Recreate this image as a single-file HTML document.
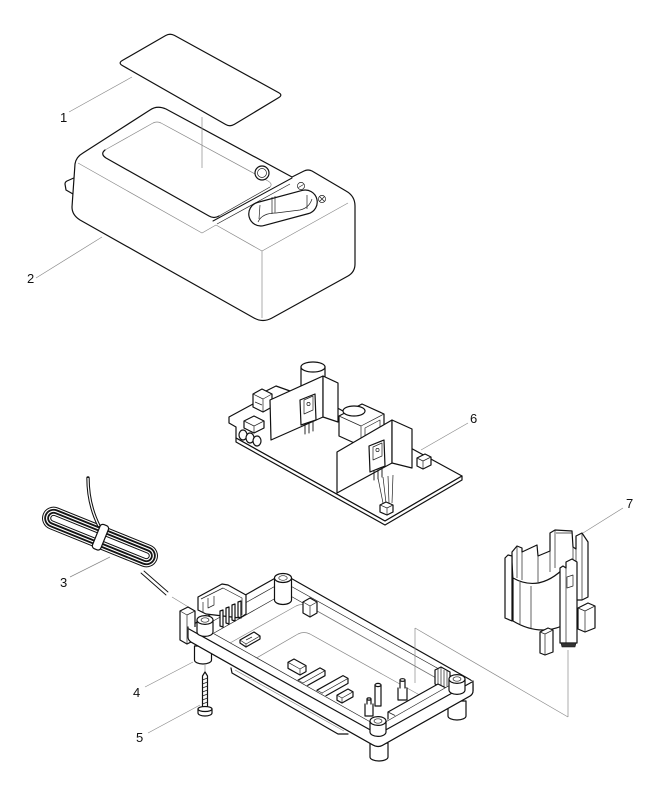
<!DOCTYPE html>
<html><head><meta charset="utf-8"><style>
html,body{margin:0;padding:0;background:#fff}
svg{display:block}
.k{fill:#fff;stroke:#111;stroke-width:1.2;stroke-linejoin:round;stroke-linecap:round}
.n{fill:none;stroke:#111;stroke-width:1.2;stroke-linejoin:round;stroke-linecap:round}
.t{fill:none;stroke:#222;stroke-width:0.7;stroke-linejoin:round}
.g{fill:none;stroke:#8a8a8a;stroke-width:0.7}
text{font-family:"Liberation Sans",sans-serif;font-size:13px;fill:#111}
</style></head><body>
<svg width="657" height="800" viewBox="0 0 657 800" xmlns="http://www.w3.org/2000/svg">
<rect width="657" height="800" fill="#fff"/>

<!-- ===== Part 1: label card ===== -->
<path class="k" d="M174.4,35.4 L278.6,92.6 Q283,95 278.7,97.6 L234.3,124.4 Q230,127 225.7,124.5 L122.3,65.5 Q118,63 122.3,60.5 L165.7,35.5 Q170,33 174.4,35.4 Z"/>
<line class="g" x1="132" y1="77" x2="69" y2="112"/>
<text x="60" y="122">1</text>

<!-- ===== Part 2: housing ===== -->
<path class="k" d="M76,177 L67,181 Q65,182 65,184 L66,190 L73,194"/>
<path class="k" d="M150,110 Q157,105 166,109 L292,177 L304,171 Q308,169 312,171 L346,191 Q355,196 355,206 L355,264 Q355,272 348,276 L272,318 Q263,323 254,318 L80,220 Q72,215 72,207 L75,164 Q76,157 83,153 Z"/>
<!-- recess -->
<path class="g" d="M105,150 L153,123 Q157,121 161,123 L268,181 Q273,184 270,187"/>
<path class="n" d="M105,150 Q100,154 106,158 L209,216 Q214,219 219,216"/>
<path class="t" d="M219,216 L270,187"/>
<!-- groove -->
<path class="n" d="M213,221 L292,178" style="stroke-width:1"/>
<path class="t" d="M217,224 L290,184"/>
<!-- body edges -->
<path class="g" d="M78,163 L202,233 L216,225 L262,251 L348,203"/>
<path class="g" d="M262,251 L262,318"/>
<!-- vertical leader from card -->
<line class="g" x1="202" y1="117" x2="202" y2="168"/>
<!-- button -->
<circle class="k" cx="262" cy="173" r="7"/>
<circle class="t" cx="262" cy="173" r="4.5"/>
<!-- socket -->
<g transform="translate(283,208) rotate(-15)">
  <rect class="k" x="-35" y="-12" width="70" height="24" rx="12"/>
</g>
<path class="t" d="M258,222 Q262,213 276,213 L300,210 Q309,208 312,199"/>
<path class="t" d="M260,205 L259,219"/>
<path class="t" d="M272,197 L272,214 M275,196 L275,213"/>
<path class="t" d="M307,195 L307,209"/>
<!-- polarity symbols -->
<circle class="t" cx="301" cy="186" r="3.6"/>
<line class="t" x1="298.5" y1="187.5" x2="303.5" y2="184.5"/>
<circle class="t" cx="322" cy="199" r="3.6"/>
<line class="t" x1="319.5" y1="196.5" x2="324.5" y2="201.5"/>
<line class="t" x1="324.5" y1="196.5" x2="319.5" y2="201.5"/>
<line class="g" x1="102" y1="237" x2="36" y2="278"/>
<text x="27" y="283">2</text>

<!-- ===== Part 6: PCB ===== -->
<path class="k" d="M229,417 L253,404 L310,393 L462,476 L385,521 L236,438 L236,427 L229,423 Z"/>
<path class="k" d="M236,438 L236,442 L385,525 L462,480 L462,476 L385,521 Z"/>
<!-- small left components -->
<path class="k" d="M262,393 L276,386 L290,391 L290,397 L276,404 L262,398 Z"/>
<path class="k" d="M253,394 L262,389 L272,394 L272,407 L263,412 L253,407 Z"/>
<path class="t" d="M253,394 L263,399 L272,394 M263,399 L263,412 M255,402 L262,405"/>
<path class="k" d="M244,421 L254,416 L264,421 L264,428 L254,433 L244,428 Z"/>
<path class="t" d="M244,421 L254,426 L264,421 M254,426 L254,433"/>
<ellipse class="k" cx="243" cy="435" rx="4" ry="5"/>
<ellipse class="k" cx="250" cy="438" rx="4" ry="5"/>
<ellipse class="k" cx="257" cy="441" rx="4" ry="5"/>
<!-- capacitor -->
<path class="k" d="M301,367 L301,392 L325,392 L325,367"/>
<ellipse class="k" cx="313" cy="367" rx="12" ry="5"/>
<!-- left panel -->
<path class="k" d="M270,400 L323,376 L323,417 L271,440 Z"/>
<path class="k" d="M323,376 L338,383 L338,422 L323,417 Z"/>
<!-- left transistor -->
<path class="k" d="M300,400 L315,394 L316,420 L301,425 Z"/>
<path class="t" d="M304,400 L313,396 L313,410 L304,414 Z"/>
<circle class="t" cx="308.5" cy="404" r="1.6"/>
<path class="n" style="stroke-width:0.9" d="M305,424 L305,434 M309,423 L309,433 M313,421 L313,431"/>
<!-- transformer -->
<path class="k" d="M339,416 L362,404 L384,414 L384,434 L361,446 L339,436 Z"/>
<path class="t" d="M339,416 L361,426 L384,414 M361,426 L361,446"/>
<ellipse class="k" cx="354" cy="411" rx="11" ry="5"/>
<path class="t" d="M365,428 L380,420 L380,428 L365,436 Z"/>
<!-- right panel -->
<path class="k" d="M337,452 L392,420 L392,463 L337,493 Z"/>
<path class="k" d="M392,420 L412,429 L412,468 L392,463 Z"/>
<!-- right transistor -->
<path class="k" d="M369,446 L384,440 L385,466 L370,472 Z"/>
<path class="t" d="M373,447 L382,443 L382,456 L373,460 Z"/>
<circle class="t" cx="377.5" cy="450" r="1.6"/>
<path class="n" style="stroke-width:0.9" d="M374,471 L374,480 M378,470 L378,479 M382,468 L382,477"/>
<!-- wires + connector -->
<path class="t" d="M378,478 L383,503 M383,477 L386,503 M388,476 L389,503 M393,475 L392,503"/>
<path class="k" d="M380,505 L386,502 L393,505 L393,512 L387,515 L380,512 Z"/>
<path class="t" d="M380,505 L387,508 L393,505 M387,508 L387,515"/>
<!-- small right comps -->
<path class="k" d="M417,458 L425,454 L431,457 L431,465 L423,469 L417,466 Z"/>
<path class="t" d="M417,458 L423,461 L431,457 M423,461 L423,469"/>
<line class="g" x1="421" y1="450" x2="468" y2="423"/>
<text x="470" y="423">6</text>

<!-- ===== Part 3: cord ===== -->
<g transform="translate(100,537) rotate(22)">
  <rect x="-60" y="-10" width="120" height="20" rx="10" fill="none" stroke="#111" stroke-width="3.2"/>
  <rect x="-60" y="-10" width="120" height="20" rx="10" fill="none" stroke="#fff" stroke-width="1.2"/>
  <rect x="-57" y="-7" width="114" height="14" rx="7" fill="none" stroke="#111" stroke-width="3.2"/>
  <rect x="-57" y="-7" width="114" height="14" rx="7" fill="none" stroke="#fff" stroke-width="1.2"/>
  <rect x="-54" y="-4" width="108" height="8" rx="4" fill="none" stroke="#111" stroke-width="3.2"/>
  <rect x="-54" y="-4" width="108" height="8" rx="4" fill="none" stroke="#fff" stroke-width="1.2"/>
</g>
<path d="M88,478 C88,495 91,510 99,526" fill="none" stroke="#111" stroke-width="3.4" stroke-linecap="round"/>
<path d="M88,478 C88,495 91,510 99,526" fill="none" stroke="#fff" stroke-width="1.3"/>
<g transform="translate(100,537) rotate(22)">
  <rect class="k" x="-4" y="-13" width="9" height="26" rx="3"/>
</g>
<path class="n" style="stroke-width:0.9" d="M141,573 L166,595 M144,571 L168,592"/>
<line class="g" x1="110" y1="557" x2="70" y2="577"/>
<text x="60" y="587">3</text>
<line class="g" x1="172" y1="597" x2="190" y2="608"/>

<!-- ===== Part 4: base ===== -->
<!-- bottom shell -->
<path class="n" d="M231,668 L232,673 L338,734 L348,734"/>
<path class="g" d="M235,670 L344,731"/>
<!-- feet -->
<path class="k" d="M194.5,646 L194.5,660 A8.5,4 0 0 0 211.5,660 L211.5,646 Z"/>
<path class="k" d="M370,743 L370,757 A9,4 0 0 0 388,757 L388,743 Z"/>
<path class="k" d="M448,701 L448,716 A9,4 0 0 0 466,716 L466,701 Z"/>
<!-- rim silhouette -->
<path class="k" d="M192,625 L279,576 Q283,574 287,576 L469,679 Q473,681 473,684 L473,691 Q473,694 470,696 L383,745 Q378,748 373,745 L191,642 Q188,640 188,637 L188,630 Q188,627 192,625 Z"/>
<!-- inner edge -->
<path class="t" d="M206,625 L279,584 Q283,582 287,584 L455,678 Q459,680 455,682 L382,724 Q378,726 374,724 L206,630 Q202,627 206,625 Z"/>
<path class="t" d="M287,594 L445,683"/>
<path class="t" d="M283,594 L214,633"/>
<path class="g" d="M230,643 L296,606 Q302,603 308,606 L440,680"/>
<path class="g" d="M253,660 L298,634 Q304,631 310,634 L425,698"/>
<!-- back-right inner block -->
<path class="k" d="M303,602 L310,598 L317,602 L317,613 L310,617 L303,613 Z"/>
<path class="t" d="M303,602 L310,606 L317,602 M310,606 L310,617"/>
<!-- chip -->
<path class="k" d="M240,640 L254,632 L260,636 L260,639 L246,647 L240,643 Z"/>
<path class="t" d="M240,640 L246,644 L260,636 M246,644 L246,647 M246,640 L252,637"/>
<!-- blocks -->
<path class="k" d="M288,662.3 L294,659 L306,665.6 L306,671.6 L300,675 L288,668.3 Z"/>
<path class="t" d="M288,662.3 L300,669 L306,665.6 M300,669 L300,675"/>
<path class="k" d="M298,680.2 L320,667.9 L325,670.7 L325,675.7 L303,688 L298,685.2 Z"/>
<path class="t" d="M298,680.2 L303,683 L325,670.7 M303,683 L303,688"/>
<path class="k" d="M317,690.2 L343,675.6 L348,678.4 L348,683.4 L322,698 L317,695.2 Z"/>
<path class="t" d="M317,690.2 L322,693 L348,678.4 M322,693 L322,698"/>
<path class="k" d="M337,695.2 L348,689 L353,691.8 L353,696.8 L342,703 L337,700.2 Z"/>
<path class="t" d="M337,695.2 L342,698 L353,691.8 M342,698 L342,703"/>
<!-- pins -->
<path class="k" d="M375,685 L375,706 L381,706 L381,685"/>
<ellipse class="k" cx="378" cy="685" rx="3" ry="1.6"/>
<path class="k" d="M398,688 L398,700 L407,700 L407,688"/>
<path class="k" d="M400,688 L400,680 L405,680 L405,688"/>
<ellipse class="k" cx="402.5" cy="680" rx="2.5" ry="1.3"/>
<path class="k" d="M365,704 L365,716 L373,716 L373,704"/>
<path class="k" d="M367,704 L367,699 L371,699 L371,704"/>
<ellipse class="k" cx="369" cy="699" rx="2" ry="1.1"/>
<!-- right ribs -->
<path class="k" d="M435,670 L441,667 L450,672 L450,686 L444,689 L435,684 Z"/>
<path class="t" d="M438,669 L438,686 M441,667 L441,688 M444,670 L444,689 M447,671 L447,688"/>
<!-- right connector -->
<path class="k" d="M388,712 L438,684 L446,688 L446,700 L396,728 L388,724 Z"/>
<path class="t" d="M388,712 L396,716 L446,688 M396,716 L396,728 M405,710 L405,718 M425,699 L425,707"/>
<!-- left tab -->
<path class="k" d="M180,611 L188,607 L195,611 L195,640 L187,644 L180,640 Z"/>
<path class="t" d="M180,611 L187,615 L195,611 M187,615 L187,644"/>
<!-- left connector housing (cord inlet) -->
<path class="k" d="M198,610 L198,597 L222,584 L228,585 L246,595 L246,614 L240,618 L206,614 Z"/>
<path class="t" d="M201,599 L223,588 L242,598 L242,615"/>
<path class="t" d="M203,602 L203,612 M208,598 L208,608 L214,605 L214,596"/>
<path class="k" d="M220,611 L220,626 L223,627 L223,610 Z"/>
<path class="k" d="M226,608 L226,623 L229,624 L229,607 Z"/>
<path class="k" d="M232,605 L232,620 L235,621 L235,604 Z"/>
<path class="k" d="M238,602 L238,617 L241,618 L241,601 Z"/>
<!-- back post -->
<path class="k" d="M274.5,578 L274.5,600 A8.5,4.5 0 0 0 291.5,600 L291.5,578 Z"/>
<ellipse class="k" cx="283" cy="578" rx="8.5" ry="4.5"/>
<ellipse class="t" cx="283" cy="578" rx="4.2" ry="2.3"/>
<!-- front rim strip redraw -->
<path d="M188,627 L202,627 L378,725 L459,680 L473,681 L473,691 Q473,694 470,696 L383,745 Q378,748 373,745 L191,642 Q188,640 188,637 Z" fill="#fff" stroke="none"/>
<path class="n" d="M188,627 L188,637 Q188,640 191,642 L373,745 Q378,748 383,745 L470,696 Q473,694 473,691 L473,681"/>
<path class="n" d="M189,629 L374,732 Q378,734 382,732 L472,682"/>
<path class="t" d="M202,627 L374,724 Q378,726 382,724 L459,680"/>
<!-- corner posts -->
<path class="k" d="M197,620 L197,632 A8,4.4 0 0 0 213,632 L213,620 Z"/>
<ellipse class="k" cx="205" cy="620" rx="8" ry="4.4"/>
<ellipse class="t" cx="205" cy="620" rx="4" ry="2.2"/>
<path class="k" d="M370,721 L370,732 A8,4.4 0 0 0 386,732 L386,721 Z"/>
<ellipse class="k" cx="378" cy="721" rx="8" ry="4.4"/>
<ellipse class="t" cx="378" cy="721" rx="4" ry="2.2"/>
<path class="k" d="M449,679 L449,690 A8,4.4 0 0 0 465,690 L465,679 Z"/>
<ellipse class="k" cx="457" cy="679" rx="8" ry="4.4"/>
<ellipse class="t" cx="457" cy="679" rx="4" ry="2.2"/>
<line class="g" x1="193" y1="662" x2="145" y2="687"/>
<text x="133" y="697">4</text>

<!-- ===== Part 5: screw ===== -->
<line class="g" x1="205" y1="664" x2="205" y2="673"/>
<path class="k" d="M202.5,676 L205,672 L207.5,676 L207.5,709 L202.5,709 Z"/>
<path class="t" d="M202.5,680 L207.5,678 M202.5,684 L207.5,682 M202.5,688 L207.5,686 M202.5,692 L207.5,690 M202.5,696 L207.5,694 M202.5,700 L207.5,698 M202.5,704 L207.5,702"/>
<path class="k" d="M198,709 L212,709 L212,713 A7,3 0 0 1 198,713 Z"/>
<ellipse class="k" cx="205" cy="709" rx="7" ry="2.5"/>
<line class="g" x1="200" y1="705" x2="148" y2="733"/>
<text x="136" y="742">5</text>

<!-- ===== Part 7: holder ===== -->
<path class="k" d="M512,562 L512,552 L517,546 L522,548 L522,552 L537,545 L538,556 L550,551 L550,533 L555,530 L572,531 L573,547 L576,549 L576,536 L582,533 L588,542 L588,597 L582,600 L560,600 L513,580 Z"/>
<path class="t" d="M517,546 L517,578 M522,552 L522,580 M538,556 L538,582 M550,551 L550,572 M555,530 L555,568 M573,547 L573,566 M576,549 L576,600 M582,533 L582,600 M556,533 L572,533"/>
<path class="k" d="M505,558 L508,555 L512,556 L512,621 L505,618 Z"/>
<path class="k" d="M513,578 Q538,592 562,570 L562,626 Q538,636 513,621 Z"/>
<path class="t" d="M520,582 L520,624 M531,586 L531,629"/>
<path class="k" d="M560,568 L563,566 L566,568 L566,562 L572,559 L577,562 L577,643 L560,643 Z"/>
<path class="t" d="M566,568 L566,643 M567,577 L573,575 L573,586 L567,588 Z"/>
<path d="M561,643 L576,643 L575,647 L562,647 Z" fill="#333" stroke="#111" stroke-width="0.6"/>
<path class="k" d="M540,632 L548,628 L553,630 L553,652 L545,655 L540,653 Z"/>
<path class="t" d="M540,632 L545,634 L553,630 M545,634 L545,655"/>
<path class="k" d="M578,608 L588,603 L595,606 L595,628 L585,632 L578,629 Z"/>
<path class="t" d="M578,608 L585,611 L595,606 M585,611 L585,632"/>
<line class="g" x1="583" y1="533" x2="623" y2="508"/>
<text x="626" y="508">7</text>

<!-- assembly leader lines -->
<line class="g" x1="415" y1="628" x2="415" y2="683"/>
<line class="g" x1="415" y1="628" x2="568" y2="717"/>
<line class="g" x1="568" y1="650" x2="568" y2="717"/>
</svg>
</body></html>
